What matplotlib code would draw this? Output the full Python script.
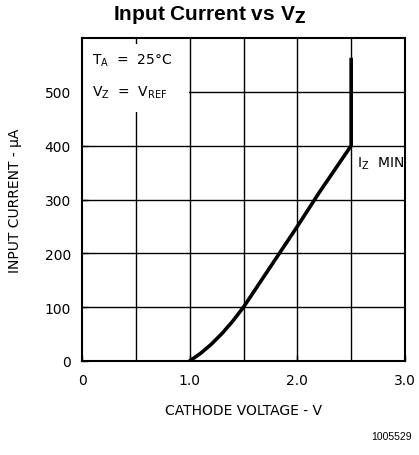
import matplotlib
matplotlib.use("Agg")
import matplotlib.pyplot as plt
from matplotlib.patches import Rectangle

# curve: cathode voltage (V) vs input current (uA)
volts = [1.0, 1.1, 1.2, 1.3, 1.4, 1.5, 1.6, 1.8, 2.0, 2.2, 2.35, 2.5, 2.5]
current = [0, 14, 31, 51, 74, 100, 130, 190, 250, 312, 356, 400, 560]

x_ticks = [0, 1.0, 2.0, 3.0]
x_labels = ["0", "1.0", "2.0", "3.0"]
y_ticks = [0, 100, 200, 300, 400, 500]

fig = plt.figure(figsize=(4.19, 4.56), dpi=100)
ax = fig.add_axes([82 / 419, 94 / 456, 323 / 419, 323 / 456])

ax.set_xlim(0, 3.0)
ax.set_ylim(0, 600)

# grid every 0.5 V / 100 uA
for gx in [0.5, 1.0, 1.5, 2.0, 2.5]:
    ax.axvline(gx, color="black", lw=1.0, zorder=1)
for gy in [100, 200, 300, 400, 500]:
    ax.axhline(gy, color="black", lw=1.0, zorder=1)

# white patches behind the labels
ax.add_patch(Rectangle((0, 462), 0.99, 126, facecolor="white", edgecolor="none", zorder=2))
ax.add_patch(Rectangle((2.52, 335), 0.46, 60, facecolor="white", edgecolor="none", zorder=2))

ax.plot(volts, current, color="black", lw=2.6, solid_joinstyle="miter", zorder=3)

ax.text(0.09, 560, r"T$_\mathregular{A}$  =  25°C", fontsize=10, va="center", zorder=4)
ax.text(0.09, 500, r"V$_\mathregular{Z}$  =  V$_\mathregular{REF}$", fontsize=10, va="center", zorder=4)
ax.text(2.55, 368, r"I$_\mathregular{Z}$  MIN", fontsize=10, va="center", zorder=4)

ax.set_xticks(x_ticks)
ax.set_xticklabels(x_labels, fontsize=10)
ax.set_yticks(y_ticks)
ax.set_yticklabels([str(v) for v in y_ticks], fontsize=10)
ax.tick_params(direction="in", length=4, width=1, pad=8)
ax.tick_params(axis="x", pad=9)
for s in ax.spines.values():
    s.set_linewidth(1.5)
    s.set_zorder(5)

ax.set_xlabel("CATHODE VOLTAGE - V", fontsize=10, labelpad=11)
ax.set_ylabel("INPUT CURRENT - μA", fontsize=10, labelpad=16)

fig.text(0.5, 0.968, r"Input Current vs V$_\mathbf{Z}$", ha="center", va="center",
         fontsize=15, fontweight="bold", family="Liberation Sans")
fig.text(0.983, 0.042, "1005529", ha="right", va="center", fontsize=7.5, family="Liberation Sans")

plt.savefig("out.png", dpi=100)
